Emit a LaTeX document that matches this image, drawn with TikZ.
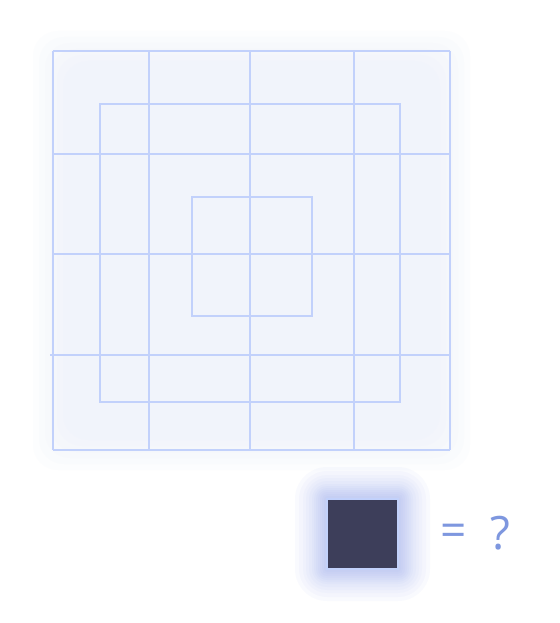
\documentclass[tikz,border=0pt]{standalone}
\usepackage{fontspec}
\setmainfont{Open Sans}
\definecolor{gridline}{HTML}{C2D1FB}
\definecolor{glowblue}{HTML}{E4EAFB}
\definecolor{darkbox}{HTML}{3D3E5A}
\definecolor{textblue}{HTML}{7E97DF}
\definecolor{haloblue}{HTML}{5B78F0}
\tikzset{
  gline/.style={draw=gridline, line width=2.7pt},
  glowlayer/.style={fill=glowblue, fill opacity=0.09, draw=none},
  halo/.style={fill=haloblue, fill opacity=0.03, draw=none},
  eqtext/.style={text=textblue, font=\fontsize{46}{46}\selectfont, inner sep=0pt}
}
\begin{document}
\begin{tikzpicture}[x=1pt,y=-1pt]
\useasboundingbox (0,0) rectangle (559,623);
\fill[white] (0,0) rectangle (559,623);
% soft glow behind the grid
\foreach \d in {-10,-4,2,8,14,20}{
  \fill[glowlayer, rounded corners=25pt] (53-\d,51-\d) rectangle (450+\d,450+\d);
}
% outer grid lines
\foreach \x in {53,149,250,354,450}{
  \draw[gline] (\x,51) -- (\x,450);
}
\foreach \y in {51,154,254,450}{
  \draw[gline] (53,\y) -- (450,\y);
}
\draw[gline] (50,355) -- (450,355);
% inner square
\draw[gline] (100,104) rectangle (400,402);
% small square
\draw[gline] (192,197) rectangle (312,316);
% halo around dark box
\foreach \d in {1,3,5,7,9,11,13,15,18,21,24,28,32}{
  \fill[halo, rounded corners=\d pt] (327-\d,499-\d) rectangle (398+\d,569+\d);
}
\draw[fill=darkbox, draw=gridline, line width=2.7pt] (327,499) rectangle (398,569);
\node[eqtext] (eq) at (454,535) {=};
\node[eqtext] (q) at (500,533) {?};
\end{tikzpicture}
\end{document}
